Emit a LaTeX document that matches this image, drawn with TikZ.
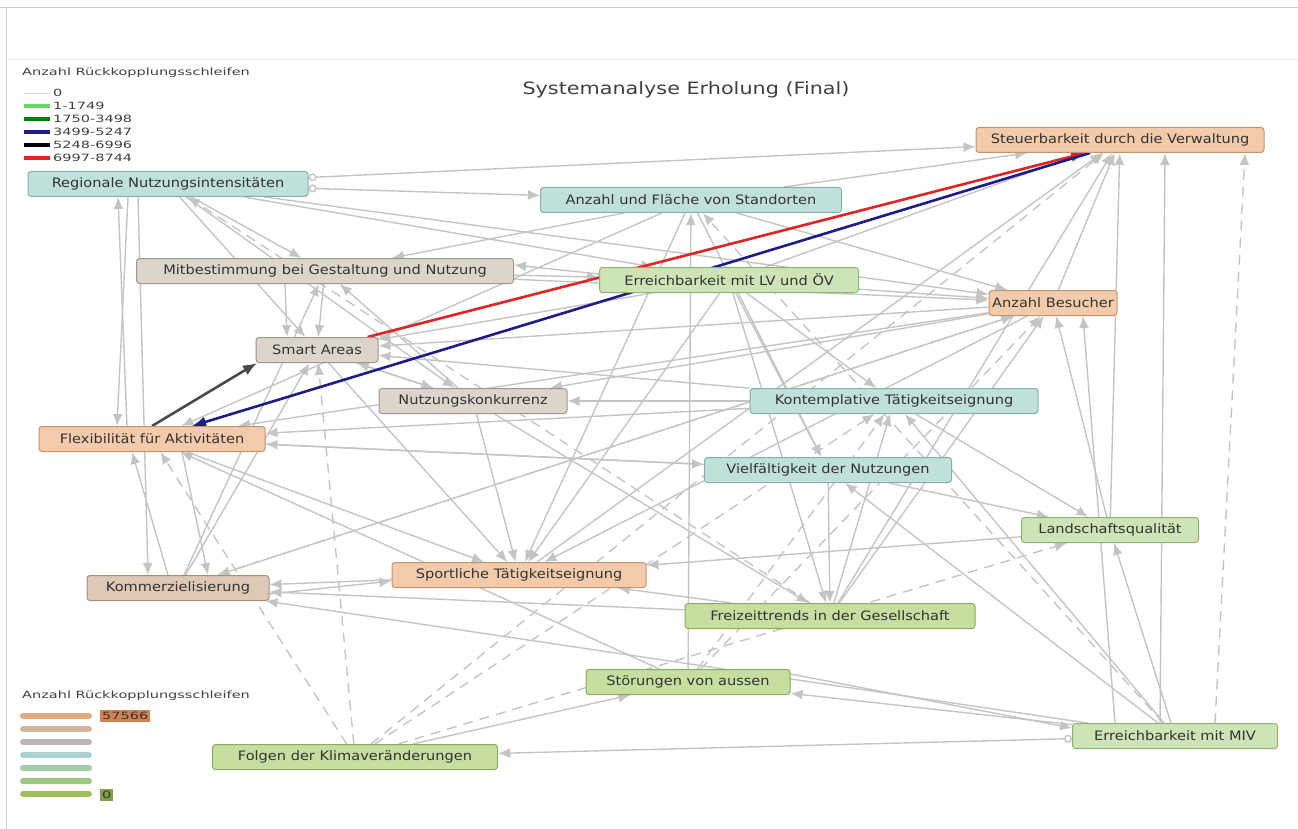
\documentclass[tikz,border=0pt]{standalone}
\usepackage{fontspec}
\setmainfont{DejaVu Sans}
\newfontfamily\widefont[FakeStretch=1.12]{DejaVu Sans}
\newfontfamily\titlefont[FakeStretch=1.22]{DejaVu Sans}
\newfontfamily\legendfont[FakeStretch=1.45]{DejaVu Sans}
\usetikzlibrary{arrows.meta}
\definecolor{orangefill}{HTML}{F3CBAA}
\definecolor{orangeline}{HTML}{C49470}
\definecolor{tanfill}{HTML}{DEC8B6}
\definecolor{tanline}{HTML}{A88E78}
\definecolor{grayfill}{HTML}{DCD5CC}
\definecolor{grayline}{HTML}{A0978C}
\definecolor{tealfill}{HTML}{C0E0DC}
\definecolor{tealline}{HTML}{86B0AA}
\definecolor{greenfill}{HTML}{CDE5B6}
\definecolor{greenline}{HTML}{8EB370}
\definecolor{limefill}{HTML}{C6DFA0}
\definecolor{limeline}{HTML}{88AD5C}
\definecolor{linkgray}{HTML}{C4C4C4}
\definecolor{loopred}{HTML}{E02424}
\definecolor{loopblue}{HTML}{1C1C8A}
\definecolor{loopdark}{HTML}{4A4A4A}
\pgfdeclarelayer{background}
\pgfsetlayers{background,main}
\tikzset{
    box/.style={rounded corners=3pt, draw, line width=1pt, minimum height=25pt,
        inner sep=2pt, text=black!80, font=\widefont\fontsize{13}{15}\selectfont},
    orangebox/.style={box, fill=orangefill, draw=orangeline},
    tanbox/.style={box, fill=tanfill, draw=tanline},
    graybox/.style={box, fill=grayfill, draw=grayline},
    tealbox/.style={box, fill=tealfill, draw=tealline},
    greenbox/.style={box, fill=greenfill, draw=greenline},
    limebox/.style={box, fill=limefill, draw=limeline},
    link/.style={draw=linkgray, line width=1.4pt,
        -{Latex[length=12pt,width=10pt,fill=linkgray]}},
    dashlink/.style={link, dash pattern=on 10pt off 7pt},
    startdot/.style={{Circle[open,length=8pt,fill=white]}-{Latex[length=12pt,width=10pt,fill=linkgray]}},
    hotlink/.style={line width=2.6pt, -{Latex[length=14pt,width=11pt]}},
    legendtext/.style={inner sep=0pt, anchor=west, text=black!75, font=\legendfont\fontsize{10}{11}\selectfont},
    legendbar/.style={line width=6pt, line cap=round}
}

\begin{document}
\begin{tikzpicture}[x=1pt,y=-1pt]
\useasboundingbox (0,0) rectangle (1298,829);
% frame
\draw[black!20, line width=1pt] (0,8) -- (1298,8);
\draw[black!20, line width=1pt] (6,8) -- (6,829);
\draw[black!7, line width=1pt] (6,60) -- (1298,60);

\node[text=black!75, font=\titlefont\fontsize{17}{20}\selectfont] (title) at (686,90) {Systemanalyse Erholung (Final)};

% factors
\node[orangebox, minimum width=288pt] (steuer) at (1120,140) {Steuerbarkeit durch die Verwaltung};
\node[tealbox, minimum width=280pt] (regional) at (168,184) {Regionale Nutzungsintensitäten};
\node[tealbox, minimum width=301pt] (standorte) at (691,200) {Anzahl und Fläche von Standorten};
\node[graybox, minimum width=377pt] (mitbest) at (325,271) {Mitbestimmung bei Gestaltung und Nutzung};
\node[greenbox, minimum width=259pt] (lvoev) at (729,280) {Erreichbarkeit mit LV und ÖV};
\node[orangebox, minimum width=128pt] (besucher) at (1053,303) {Anzahl Besucher};
\node[graybox, minimum width=122pt] (smart) at (317,350) {Smart Areas};
\node[graybox, minimum width=188pt] (konkurrenz) at (473,401) {Nutzungskonkurrenz};
\node[tealbox, minimum width=288pt] (kontempl) at (894,401) {Kontemplative Tätigkeitseignung};
\node[orangebox, minimum width=226pt] (flex) at (152,439) {Flexibilität für Aktivitäten};
\node[tealbox, minimum width=247pt] (vielfalt) at (828,470) {Vielfältigkeit der Nutzungen};
\node[greenbox, minimum width=177pt] (landschaft) at (1110,530) {Landschaftsqualität};
\node[tanbox, minimum width=182pt] (kommerz) at (178,588) {Kommerzielisierung};
\node[orangebox, minimum width=254pt] (sport) at (519,575) {Sportliche Tätigkeitseignung};
\node[limebox, minimum width=290pt] (freizeit) at (830,616) {Freizeittrends in der Gesellschaft};
\node[limebox, minimum width=204pt] (stoerung) at (688,682) {Störungen von aussen};
\node[greenbox, minimum width=205pt] (miv) at (1175,736) {Erreichbarkeit mit MIV};
\node[limebox, minimum width=285pt] (klima) at (355,757) {Folgen der Klimaveränderungen};

\begin{pgfonlayer}{background}
% feedback links
\draw[link, startdot] (regional) -- (steuer);
\draw[link, startdot] (regional) -- (standorte);
\draw[link] (regional) -- (besucher);
\draw[link] ([xshift=-40pt]regional.south) -- ([xshift=-35pt]flex.north);
\draw[link] ([xshift=-25pt]flex.north) -- ([xshift=-50pt]regional.south);
\draw[link] ([xshift=-30pt]regional.south) -- ([xshift=-30pt]kommerz.north);
\draw[link] (regional) -- (mitbest);
\draw[link] (regional) -- (smart);
\draw[link] (regional) -- (lvoev);
\draw[link] (regional) -- (konkurrenz);
\draw[link] (standorte) -- (steuer);
\draw[link] (standorte) -- (mitbest);
\draw[link] (standorte) -- (besucher);
\draw[link] (standorte) -- (vielfalt);
\draw[link] (standorte) -- (flex);
\draw[link] (standorte) -- (sport);
\draw[link] (mitbest) -- (lvoev);
\draw[link] ([yshift=6pt]lvoev.west) -- ([yshift=6pt]mitbest.east);
\draw[link] (mitbest) -- (smart);
\draw[link] ([xshift=-40pt]mitbest.south) -- ([xshift=-30pt]smart.north);
\draw[link] (lvoev) -- (steuer);
\draw[link] (lvoev) -- (besucher);
\draw[link] (lvoev) -- (smart);
\draw[link] (lvoev) -- (kontempl);
\draw[link] (lvoev) -- (vielfalt);
\draw[link] (lvoev) -- (freizeit);
\draw[link] (lvoev) -- (sport);
\draw[link] (besucher) -- (steuer);
\draw[link] (besucher) -- (smart);
\draw[link] (besucher) -- (konkurrenz);
\draw[link] (besucher) -- (flex);
\draw[link] (besucher) -- (kommerz);
\draw[link] (besucher) -- (sport);
\draw[link] (landschaft) -- (besucher);
\draw[link] (landschaft) -- (steuer);
\draw[link] ([xshift=-60pt]miv.north) -- ([xshift=30pt]besucher.south);
\draw[link] ([xshift=-15pt]miv.north) -- ([xshift=45pt]steuer.south);
\draw[link, startdot] (miv) -- (klima);
\draw[link] (miv) -- (stoerung);
\draw[link] ([yshift=8pt]stoerung.east) -- ([yshift=8pt]miv.west);
\draw[link] (miv) -- (kommerz);
\draw[link] (miv) -- (vielfalt);
\draw[link] (miv) -- (landschaft);
\draw[link] (miv) -- (kontempl);
\draw[link] (klima) -- (stoerung);
\draw[link] (freizeit) -- (kommerz);
\draw[link] (freizeit) -- (sport);
\draw[link] (freizeit) -- (besucher);
\draw[link] (freizeit) -- (kontempl);
\draw[link] (freizeit) -- (steuer);
\draw[link] (sport) -- (kommerz);
\draw[link] ([yshift=-6pt]kommerz.east) -- ([yshift=-6pt]sport.west);
\draw[link] (kommerz) -- (smart);
\draw[link] (kommerz) -- (mitbest);
\draw[link] (flex) -- (sport);
\draw[link] (flex) -- (vielfalt);
\draw[link] ([xshift=30pt]flex.south) -- ([xshift=30pt]kommerz.north);
\draw[link] ([xshift=-10pt]kommerz.north) -- ([xshift=-20pt]flex.south);
\draw[link] (konkurrenz) -- (smart);
\draw[link] (konkurrenz) -- (sport);
\draw[link] (konkurrenz) -- (freizeit);
\draw[link] (konkurrenz) -- (mitbest);
\draw[link] (kontempl) -- (smart);
\draw[link] (kontempl) -- (flex);
\draw[link] (kontempl) -- (landschaft);
\draw[link] (kontempl) -- (konkurrenz);
\draw[link] (vielfalt) -- (flex);
\draw[link] (vielfalt) -- (landschaft);
\draw[link] (vielfalt) -- (freizeit);
\draw[link] (smart) -- (konkurrenz);
\draw[link] (mitbest) -- (besucher);
\draw[link] (smart) -- (sport);
\draw[link] (landschaft) -- (sport);
\draw[link] (stoerung) -- (flex);
\draw[link] (stoerung) -- (standorte);
\draw[link] (sport) -- (steuer);
\draw[dashlink] (klima) -- (steuer);
\draw[dashlink] (klima) -- (landschaft);
\draw[dashlink] (klima) -- (flex);
\draw[dashlink] (klima) -- (smart);
\draw[dashlink] (klima) -- (kontempl);
\draw[dashlink] ([xshift=40pt]miv.north) -- ([xshift=125pt]steuer.south);
\draw[dashlink] (miv) -- (standorte);
\draw[dashlink] (stoerung) -- (kontempl);
\draw[dashlink] (stoerung) -- (besucher);
\draw[dashlink] (kommerz) -- (besucher);
\draw[dashlink] (freizeit) -- (regional);
% strongest loops
\draw[hotlink, loopred] (smart) -- ([xshift=-35pt]steuer.south);
\draw[hotlink, loopblue] ([xshift=-30pt]steuer.south) -- ([xshift=40pt]flex.north);
\draw[hotlink, loopdark] ([xshift=0pt]flex.north) -- ([xshift=-60pt]smart.south);
\end{pgfonlayer}

% legend of links
\node[legendtext] (linkhead) at (22,73) {Anzahl Rückkopplungsschleifen};
\draw[black!15, line width=0.8pt] (24,93) -- (50,93);
\node[legendtext] (link0) at (53,93) {0};
\draw[green!75!black!60, line width=3.5pt] (24,106) -- (50,106);
\node[legendtext] (link1) at (53,106) {1-1749};
\draw[green!50!black, line width=3.5pt] (24,119) -- (50,119);
\node[legendtext] (link2) at (53,119) {1750-3498};
\draw[loopblue, line width=3.5pt] (24,132) -- (50,132);
\node[legendtext] (link3) at (53,132) {3499-5247};
\draw[black, line width=3.5pt] (24,145) -- (50,145);
\node[legendtext] (link4) at (53,145) {5248-6996};
\draw[loopred, line width=3.5pt] (24,158) -- (50,158);
\node[legendtext] (link5) at (53,158) {6997-8744};

% legend of factors
\node[legendtext] (factorhead) at (22,696) {Anzahl Rückkopplungsschleifen};
\draw[legendbar, color={rgb,255:red,226;green,170;blue,128}] (23,716) -- (89,716);
\draw[legendbar, color={rgb,255:red,214;green,180;blue,154}] (23,729) -- (89,729);
\draw[legendbar, color={rgb,255:red,186;green,182;blue,174}] (23,742) -- (89,742);
\draw[legendbar, color={rgb,255:red,168;green,210;blue,210}] (23,755) -- (89,755);
\draw[legendbar, color={rgb,255:red,160;green,204;blue,168}] (23,768) -- (89,768);
\draw[legendbar, color={rgb,255:red,156;green,202;blue,130}] (23,781) -- (89,781);
\draw[legendbar, color={rgb,255:red,160;green,192;blue,96}] (23,794) -- (89,794);
\node[legendtext, fill={rgb,255:red,210;green,130;blue,80}, inner xsep=2pt, inner ysep=2pt, text=black!80] (maxval) at (100,716) {57566};
\node[legendtext, fill={rgb,255:red,128;green,160;blue,70}, inner xsep=2pt, inner ysep=2pt, text=black!80] (minval) at (100,795) {0};
\end{tikzpicture}
\end{document}
